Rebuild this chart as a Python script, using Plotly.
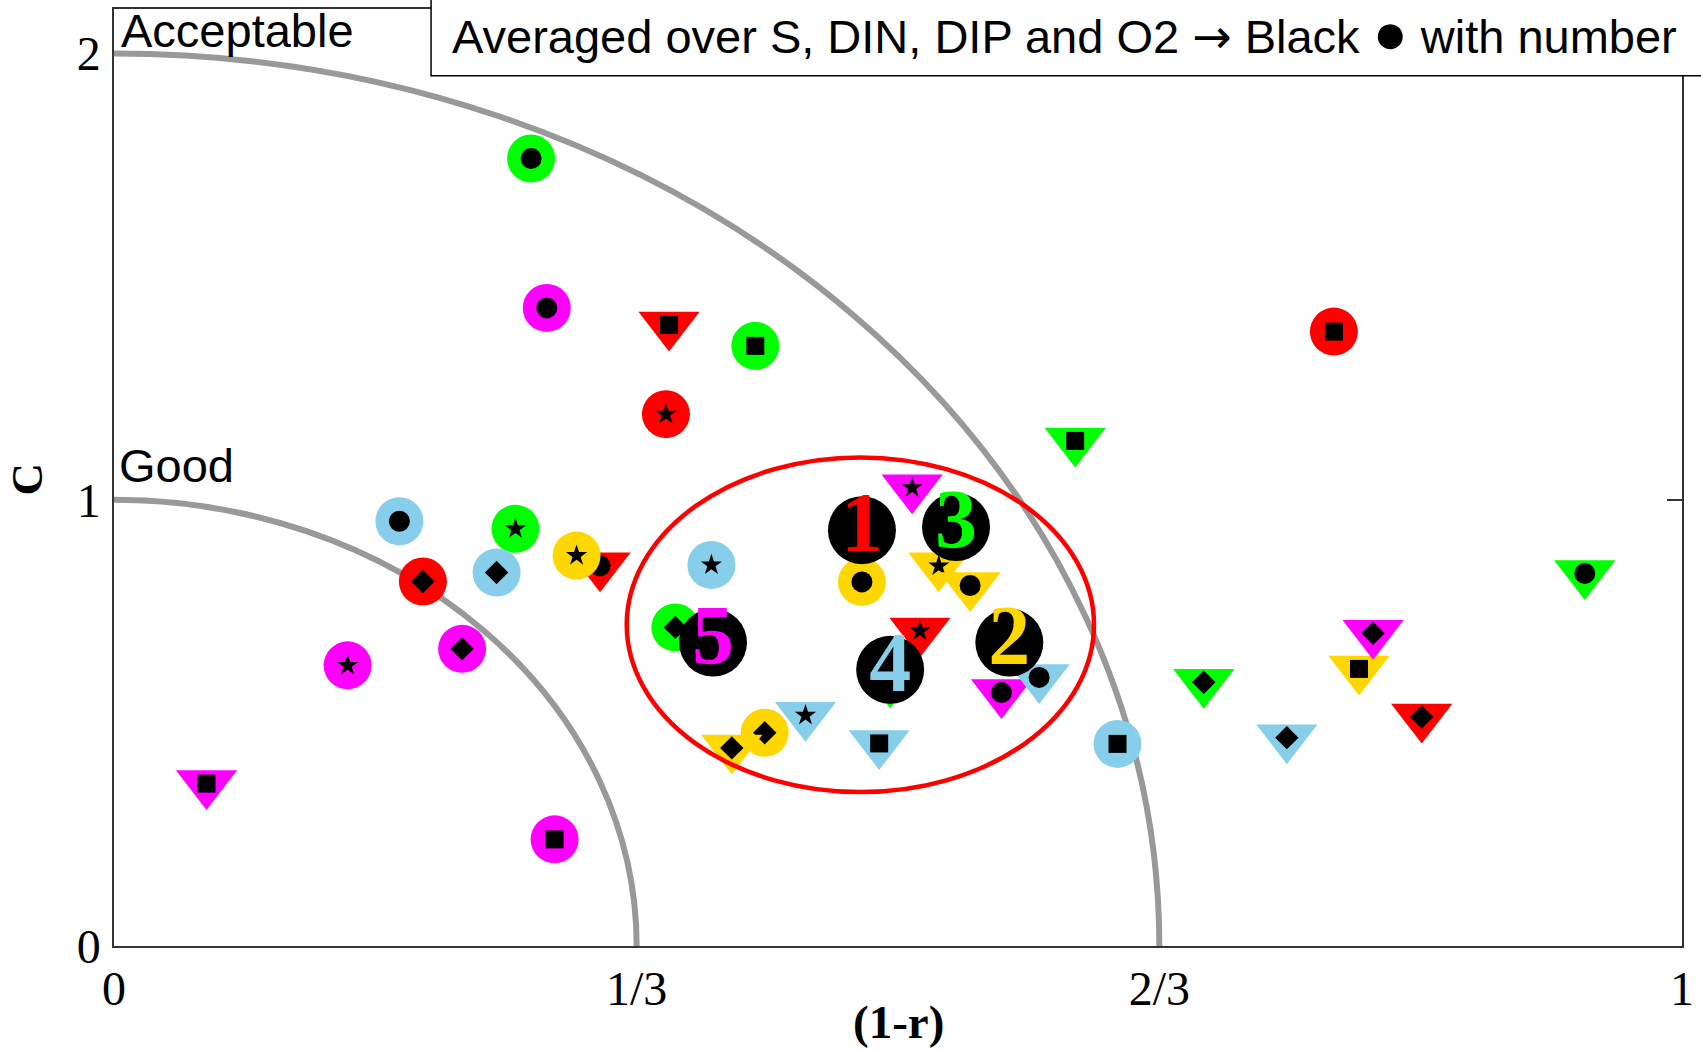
import plotly.graph_objects as go

# ---------------- data ----------------
MODELS = ['1', '2', '3', '4', '5']
MODEL_COLORS = ['#FF0000', '#FFD700', '#00FF00', '#87CEEB', '#FF00FF']  # 1 red, 2 gold, 3 green, 4 blue, 5 magenta

# points drawn with a coloured circle
circ_model = [1, 1, 1,
              3, 3, 3, 3,
              2, 2, 2,
              5, 5, 5, 5,
              4, 4, 4, 4]
circ_x = [0.352, 0.778, 0.197,
          0.266, 0.409, 0.256, 0.358,
          0.295, 0.477, 0.415,
          0.276, 0.222, 0.149, 0.281,
          0.182, 0.244, 0.381, 0.640]
circ_y = [1.192, 1.377, 0.817,
          1.765, 1.345, 0.935, 0.714,
          0.875, 0.816, 0.478,
          1.430, 0.666, 0.629, 0.239,
          0.952, 0.837, 0.854, 0.453]
circ_inner = ['star', 'square', 'diamond',
              'dot', 'square', 'star', 'diamond',
              'star', 'dot', 'diamond',
              'dot', 'diamond', 'star', 'square',
              'dot', 'diamond', 'star', 'square']

# points drawn with a coloured downward triangle
tri_model = [1, 1, 1, 1,
             3, 3, 3, 3,
             2, 2, 2, 2,
             5, 5, 5, 5,
             4, 4, 4, 4]
tri_x = [0.354, 0.310, 0.514, 0.834,
         0.613, 0.495, 0.695, 0.938,
         0.526, 0.546, 0.394, 0.794,
         0.509, 0.566, 0.803, 0.059,
         0.590, 0.441, 0.488, 0.748]
tri_y = [1.392, 0.852, 0.706, 0.513,
         1.132, 0.592, 0.591, 0.835,
         0.852, 0.808, 0.444, 0.621,
         1.027, 0.568, 0.701, 0.364,
         0.602, 0.517, 0.454, 0.467]
tri_inner = ['square', 'dot', 'star', 'diamond',
             'square', 'star', 'diamond', 'dot',
             'star', 'dot', 'diamond', 'square',
             'star', 'dot', 'diamond', 'square',
             'dot', 'star', 'square', 'diamond']

# averaged over S, DIN, DIP and O2 (numbered black circles)
avg_x = [0.477, 0.571, 0.537, 0.495, 0.382]
avg_y = [0.932, 0.680, 0.939, 0.619, 0.680]

X_TICKS = [0, 1 / 3, 2 / 3, 1]
X_TICKTEXT = ['0', '1/3', '2/3', '1']
Y_TICKS = [0, 1, 2]
Y_TICKTEXT = ['0', '1', '2']

# highlighted cluster (ellipse centre and semi-axes)
ELL_C = (0.476, 0.720)
ELL_R = (0.149, 0.375)
# target-zone boundaries: quarter ellipses through (r_x, 0) and (0, r_y)
ZONES = [(1 / 3, 1.0), (2 / 3, 2.0)]

# ---------------- styling ----------------
OUTER_SYM = {'c': 'circle', 't': 'triangle-down'}
OUTER_SIZE = {'c': 48, 't': 53}
INNER_SYM = {'dot': 'circle', 'square': 'square', 'diamond': 'diamond', 'star': 'star'}
INNER_SIZE = {'dot': 21, 'square': 18, 'diamond': 18, 'star': 16}

DRAW_ORDER = [(1, 'c'), (1, 't'), (3, 'c'), (3, 't'), (2, 'c'), (2, 't'),
              (5, 'c'), (5, 't'), (4, 'c'), (4, 't')]

xs, ys, syms, sizes, cols = [], [], [], [], []
for m, shp in DRAW_ORDER:
    if shp == 'c':
        src = zip(circ_model, circ_x, circ_y, circ_inner)
    else:
        src = zip(tri_model, tri_x, tri_y, tri_inner)
    for mm, x, y, inner in src:
        if mm != m:
            continue
        xs += [x, x]
        ys += [y, y]
        syms += [OUTER_SYM[shp], INNER_SYM[inner]]
        sizes += [OUTER_SIZE[shp], INNER_SIZE[inner]]
        cols += [MODEL_COLORS[m - 1], 'black']

SANS = 'Liberation Sans, Arial, sans-serif'
SERIF = 'Liberation Serif, Times New Roman, serif'

fig = go.Figure()
fig.add_trace(go.Scatter(
    x=xs, y=ys, mode='markers', hoverinfo='skip',
    marker=dict(symbol=syms, size=sizes, color=cols, line=dict(width=0), opacity=1),
))
fig.add_trace(go.Scatter(
    x=avg_x, y=avg_y, mode='markers+text', text=MODELS, yaxis='y2',
    textposition='middle center',
    textfont=dict(family=SERIF, size=84, color=MODEL_COLORS, weight='bold'),
    marker=dict(symbol='circle', size=68, color='black', line=dict(width=0)),
    hoverinfo='skip',
))

shapes = []
for rx, ry in ZONES:
    shapes.append(dict(type='circle', xref='x', yref='y', x0=-rx, x1=rx, y0=-ry, y1=ry,
                       line=dict(color='#999999', width=6), layer='below'))
shapes.append(dict(type='circle', xref='x', yref='y',
                   x0=ELL_C[0] - ELL_R[0], x1=ELL_C[0] + ELL_R[0],
                   y0=ELL_C[1] - ELL_R[1], y1=ELL_C[1] + ELL_R[1],
                   line=dict(color='#FF0000', width=4.5), layer='above'))
shapes.append(dict(type='rect', xref='paper', yref='paper', x0=0.2022, x1=1.2, y0=0.9287, y1=1.2,
                   fillcolor='white', line=dict(color='black', width=1.5), layer='above'))

TITLE = ('Averaged over S, DIN, DIP and O2 '
         '<span style="font-family:DejaVu Sans">→</span> Black '
         '<span style="font-size:58px">●</span> with number')

annotations = [
    dict(text=TITLE, xref='paper', yref='paper',
         x=0.2142, y=0.9752, xanchor='left', yanchor='middle', showarrow=False,
         font=dict(family=SANS, size=47, color='black')),
    dict(text='Acceptable', xref='paper', yref='paper', x=0.0032, y=0.9766,
         xanchor='left', yanchor='middle', showarrow=False, font=dict(family=SANS, size=47, color='black')),
    dict(text='Good', xref='paper', yref='paper', x=0.0019, y=0.5128,
         xanchor='left', yanchor='middle', showarrow=False, font=dict(family=SANS, size=47, color='black')),
    dict(text='<b>(1-r)</b>', xref='paper', yref='paper', x=0.5, y=-0.0815,
         xanchor='center', yanchor='middle', showarrow=False, font=dict(family=SERIF, size=47, color='black')),
    dict(text='<b>C</b>', xref='paper', yref='paper', x=-0.0555, y=0.4989, textangle=-90,
         xanchor='center', yanchor='middle', showarrow=False, font=dict(family=SERIF, size=45, color='black')),
]

fig.update_layout(
    width=1701, height=1050,
    margin=dict(l=114, r=14, t=7, b=104, pad=0),
    paper_bgcolor='white', plot_bgcolor='white',
    showlegend=False,
    shapes=shapes, annotations=annotations,
    xaxis=dict(range=[0, 1], tickvals=X_TICKS, ticktext=X_TICKTEXT,
               tickfont=dict(family=SERIF, size=48, color='black'),
               showline=True, linecolor='#333333', linewidth=1.5, mirror=True,
               showgrid=False, zeroline=False, ticks='', ticklabelstandoff=0),
    yaxis=dict(range=[0, 2.1], tickvals=Y_TICKS, ticktext=Y_TICKTEXT,
               tickfont=dict(family=SERIF, size=48, color='black'),
               showline=True, linecolor='#333333', linewidth=1.5, mirror=True,
               showgrid=False, zeroline=False, ticks='', ticklabelstandoff=2),
    yaxis2=dict(overlaying='y', side='right', anchor='x', range=[0, 2.1], tickvals=[1],
                ticks='inside', ticklen=15, tickwidth=1.5, tickcolor='#333333',
                showticklabels=False, showgrid=False, zeroline=False, showline=False),
)

fig.write_html('out.html')
